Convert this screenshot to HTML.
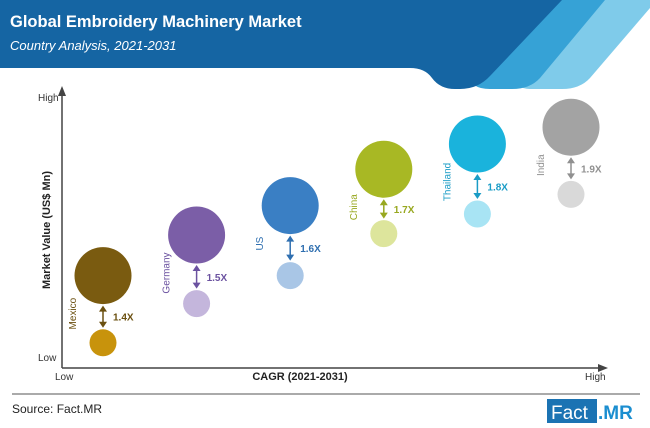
<!DOCTYPE html>
<html><head><meta charset="utf-8"><style>
body{margin:0;width:650px;height:428px;overflow:hidden;background:#fff;font-family:"Liberation Sans",sans-serif}
svg{display:block}
</style></head><body>
<svg id="chart" width="650" height="428" viewBox="0 0 650 428">
<g>
<path d="M540,0 L650,0 L650,8 L590,78 Q580,89 562,89 L530,89 Q515,89 515,75 Z" fill="#7fcbea"/>
<path d="M500,0 L605,0 L540,78 Q530,89 512,89 L490,89 Q470,89 470,75 Z" fill="#36a2d6"/>
<path d="M0,0 L562,0 L490,76 Q478,89 460,89 L455,89 Q440,89 432,78 Q425,68 410,68 L0,68 Z" fill="#1565a3"/>
<text x="10" y="27" font-size="16.5" font-weight="bold" fill="#fff">Global Embroidery Machinery Market</text>
<text x="10" y="50" font-size="13" font-style="italic" fill="#fff">Country Analysis, 2021-2031</text>
</g>
<g>
<line x1="62" y1="92" x2="62" y2="368" stroke="#444" stroke-width="1.5"/>
<path d="M58,96 L62,86 L66,96 Z" fill="#444"/>
<line x1="62" y1="368" x2="602" y2="368" stroke="#444" stroke-width="1.5"/>
<path d="M598,364 L608,368 L598,372 Z" fill="#444"/>
<text x="38" y="101" font-size="10" fill="#333">High</text>
<text x="38" y="361" font-size="10" fill="#333">Low</text>
<text x="55" y="380" font-size="10" fill="#333">Low</text>
<text x="585" y="380" font-size="10" fill="#333">High</text>
<text x="300" y="380" font-size="11" font-weight="bold" fill="#222" text-anchor="middle">CAGR (2021-2031)</text>
<text transform="translate(50,230) rotate(-90)" font-size="11" font-weight="bold" fill="#222" text-anchor="middle">Market Value (US$ Mn)</text>
</g>
<line x1="12" y1="394" x2="640" y2="394" stroke="#555" stroke-width="1"/>
<text x="12" y="413" font-size="12" fill="#222">Source: Fact.MR</text>
<g>
<rect x="547" y="399" width="50" height="24" fill="#1b73b3"/>
<text x="551" y="419" font-size="19" fill="#fff">Fact</text>
<text x="598" y="419" font-size="19" font-weight="bold" fill="#1b8ed0">.MR</text>
</g>
<g id="marks"></g>
</svg>
<script>
const countries=["Mexico","Germany","US","China","Thailand","India"];
const multipliers=[1.4,1.5,1.6,1.7,1.8,1.9];
const value2021=[9,23,33,48,55,62];
const value2031=[33,47.5,58,71,80,86];
const bigColors=["#7a5b10","#7b5ea7","#3a7fc4","#a8b824","#1ab3dc","#a3a3a3"];
const smallColors=["#c8930c","#c4b6dc","#a9c6e6","#dde59c","#a8e4f4","#d9d9d9"];
const labelColors=["#6b5010","#6b52a0","#2f6fb0","#98a820","#1a9cc6","#909090"];
function xs(m){return 103+(m-1.4)*936;}
function ys(v){return 368-v*2.8;}
const g=document.getElementById('marks');
const NS="http://www.w3.org/2000/svg";
function mk(t,a){const e=document.createElementNS(NS,t);for(const k in a)e.setAttribute(k,a[k]);g.appendChild(e);return e;}
countries.forEach((c,i)=>{
 const x=xs(multipliers[i]),yb=ys(value2031[i]),ysm=ys(value2021[i]);
 const b=mk('circle',{cx:x,cy:yb,r:28.5,fill:bigColors[i]});
 
 
 const s=mk('circle',{cx:x,cy:ysm,r:13.5,fill:smallColors[i]});
 
 
 const y1=yb+30,y2=ysm-15;
 const l=mk('line',{x1:x,y1:y1+5,x2:x,y2:y2-5,stroke:labelColors[i],'stroke-width':1.5});
 
 
 mk('path',{d:`M${x-4},${y1+6} L${x},${y1} L${x+4},${y1+6} Z`,fill:labelColors[i]});
 mk('path',{d:`M${x-4},${y2-6} L${x},${y2} L${x+4},${y2-6} Z`,fill:labelColors[i]});
 const t=mk('text',{x:x+10,y:(y1+y2)/2+4,'font-size':10,'font-weight':'bold',fill:labelColors[i]});
 t.textContent=multipliers[i].toFixed(1)+'X';
 
 
 const n=mk('text',{transform:`translate(${x-27},${yb+38}) rotate(-90)`,'font-size':10,fill:labelColors[i],'text-anchor':'middle'});
 n.textContent=c;
 
 
});
</script>
</body></html>
